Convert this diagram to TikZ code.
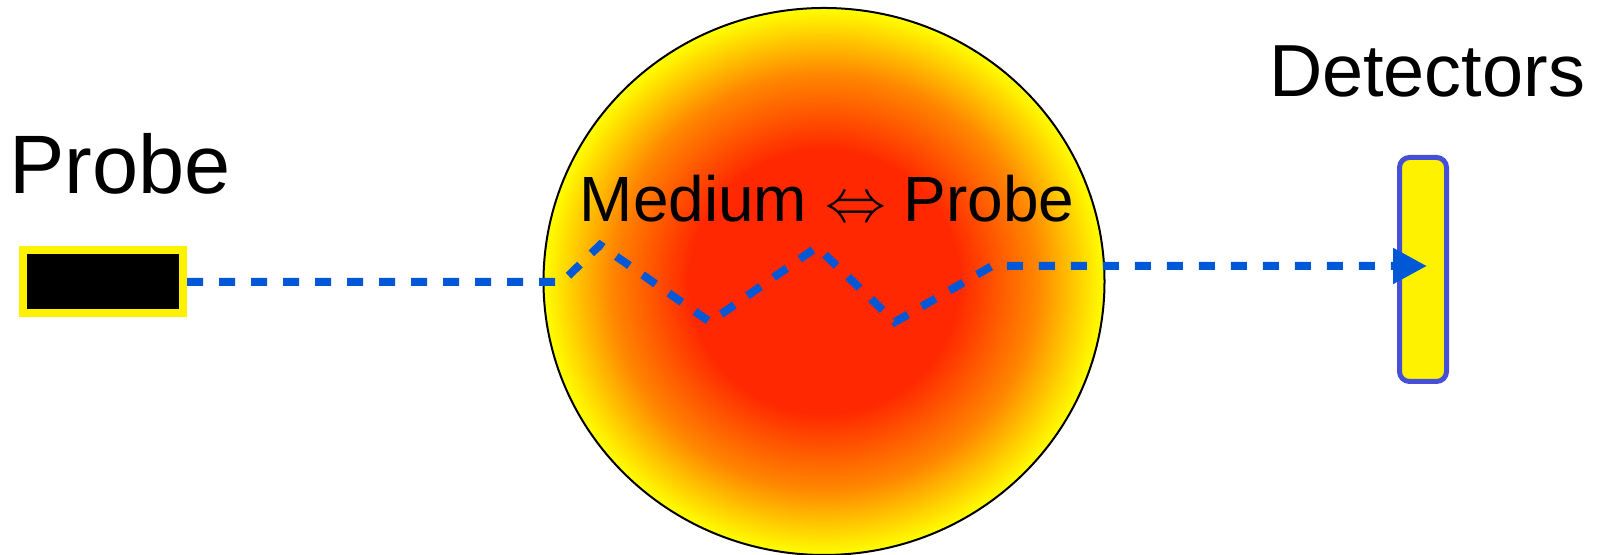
\documentclass[tikz,border=0pt]{standalone}
\usepackage{fontspec}
\setmainfont{Liberation Sans}
\usetikzlibrary{arrows.meta}

\definecolor{rayblue}{RGB}{0, 88, 214}
\definecolor{detblue}{RGB}{70, 80, 215}
\definecolor{hotred}{RGB}{255, 40, 0}
\definecolor{warmorange}{RGB}{255, 135, 0}
\pgfdeclareradialshading{fireball}{\pgfpoint{0bp}{0bp}}{%
  color(0bp)=(hotred); color(12bp)=(hotred); color(19bp)=(warmorange);
  color(25bp)=(yellow); color(50bp)=(yellow)}

\begin{document}
\begin{tikzpicture}[thick,
        txt/.style={inner sep=0pt, text=black},
        ray/.style={draw=rayblue, line width=0.08cm, dash pattern=on 0.16cm off 0.16cm},
        box/.style={inner sep=0pt, outer sep=0.5\pgflinewidth}]

    \useasboundingbox (0,0) rectangle (15.99,5.55);

    % --- medium ---
    \shadedraw[shading=fireball, draw=black, line width=0.02cm]
        (8.24,2.735) ellipse [x radius=2.805, y radius=2.735];

    % --- labels ---
    \node[txt, font=\fontsize{23.6}{28}\selectfont, anchor=base west] (probelbl) at (0.08,3.61) {Probe};
    \node[txt, font=\fontsize{21}{25}\selectfont, anchor=base] (detlbl) at (14.27,4.58) {Detectors};
    \node[txt, font=\fontsize{18.2}{22}\selectfont, anchor=base] (medlbl) at (8.27,3.33) {Medium $\Leftrightarrow$ Probe};

    % --- source and detector ---
    \node[box, draw=yellow, fill=black, line width=0.08cm,
          minimum width=1.6cm, minimum height=0.63cm] (probe) at (1.03,2.73) {};
    \node[box, draw=detblue, fill=yellow, line width=0.05cm, rounded corners=0.1cm,
          minimum width=0.47cm, minimum height=2.24cm] (det) at (14.23,2.855) {};

    % --- scattering points ---
    \coordinate (b1) at (5.62,2.73);
    \coordinate (p1) at (6.00,3.10);
    \coordinate (t1) at (7.10,2.33);
    \coordinate (p2) at (8.17,3.08);
    \coordinate (t2) at (8.95,2.33);
    \coordinate (b2) at (9.92,2.89);
    \coordinate (hit) at (14.27,2.89);

    % --- ray ---
    \draw[ray, -{Triangle[length=0.34cm, width=0.34cm]}]
        (probe.east) -- (b1) -- (p1) -- (t1) -- (p2) -- (t2) -- (b2) -- (hit);

\end{tikzpicture}
\end{document}
